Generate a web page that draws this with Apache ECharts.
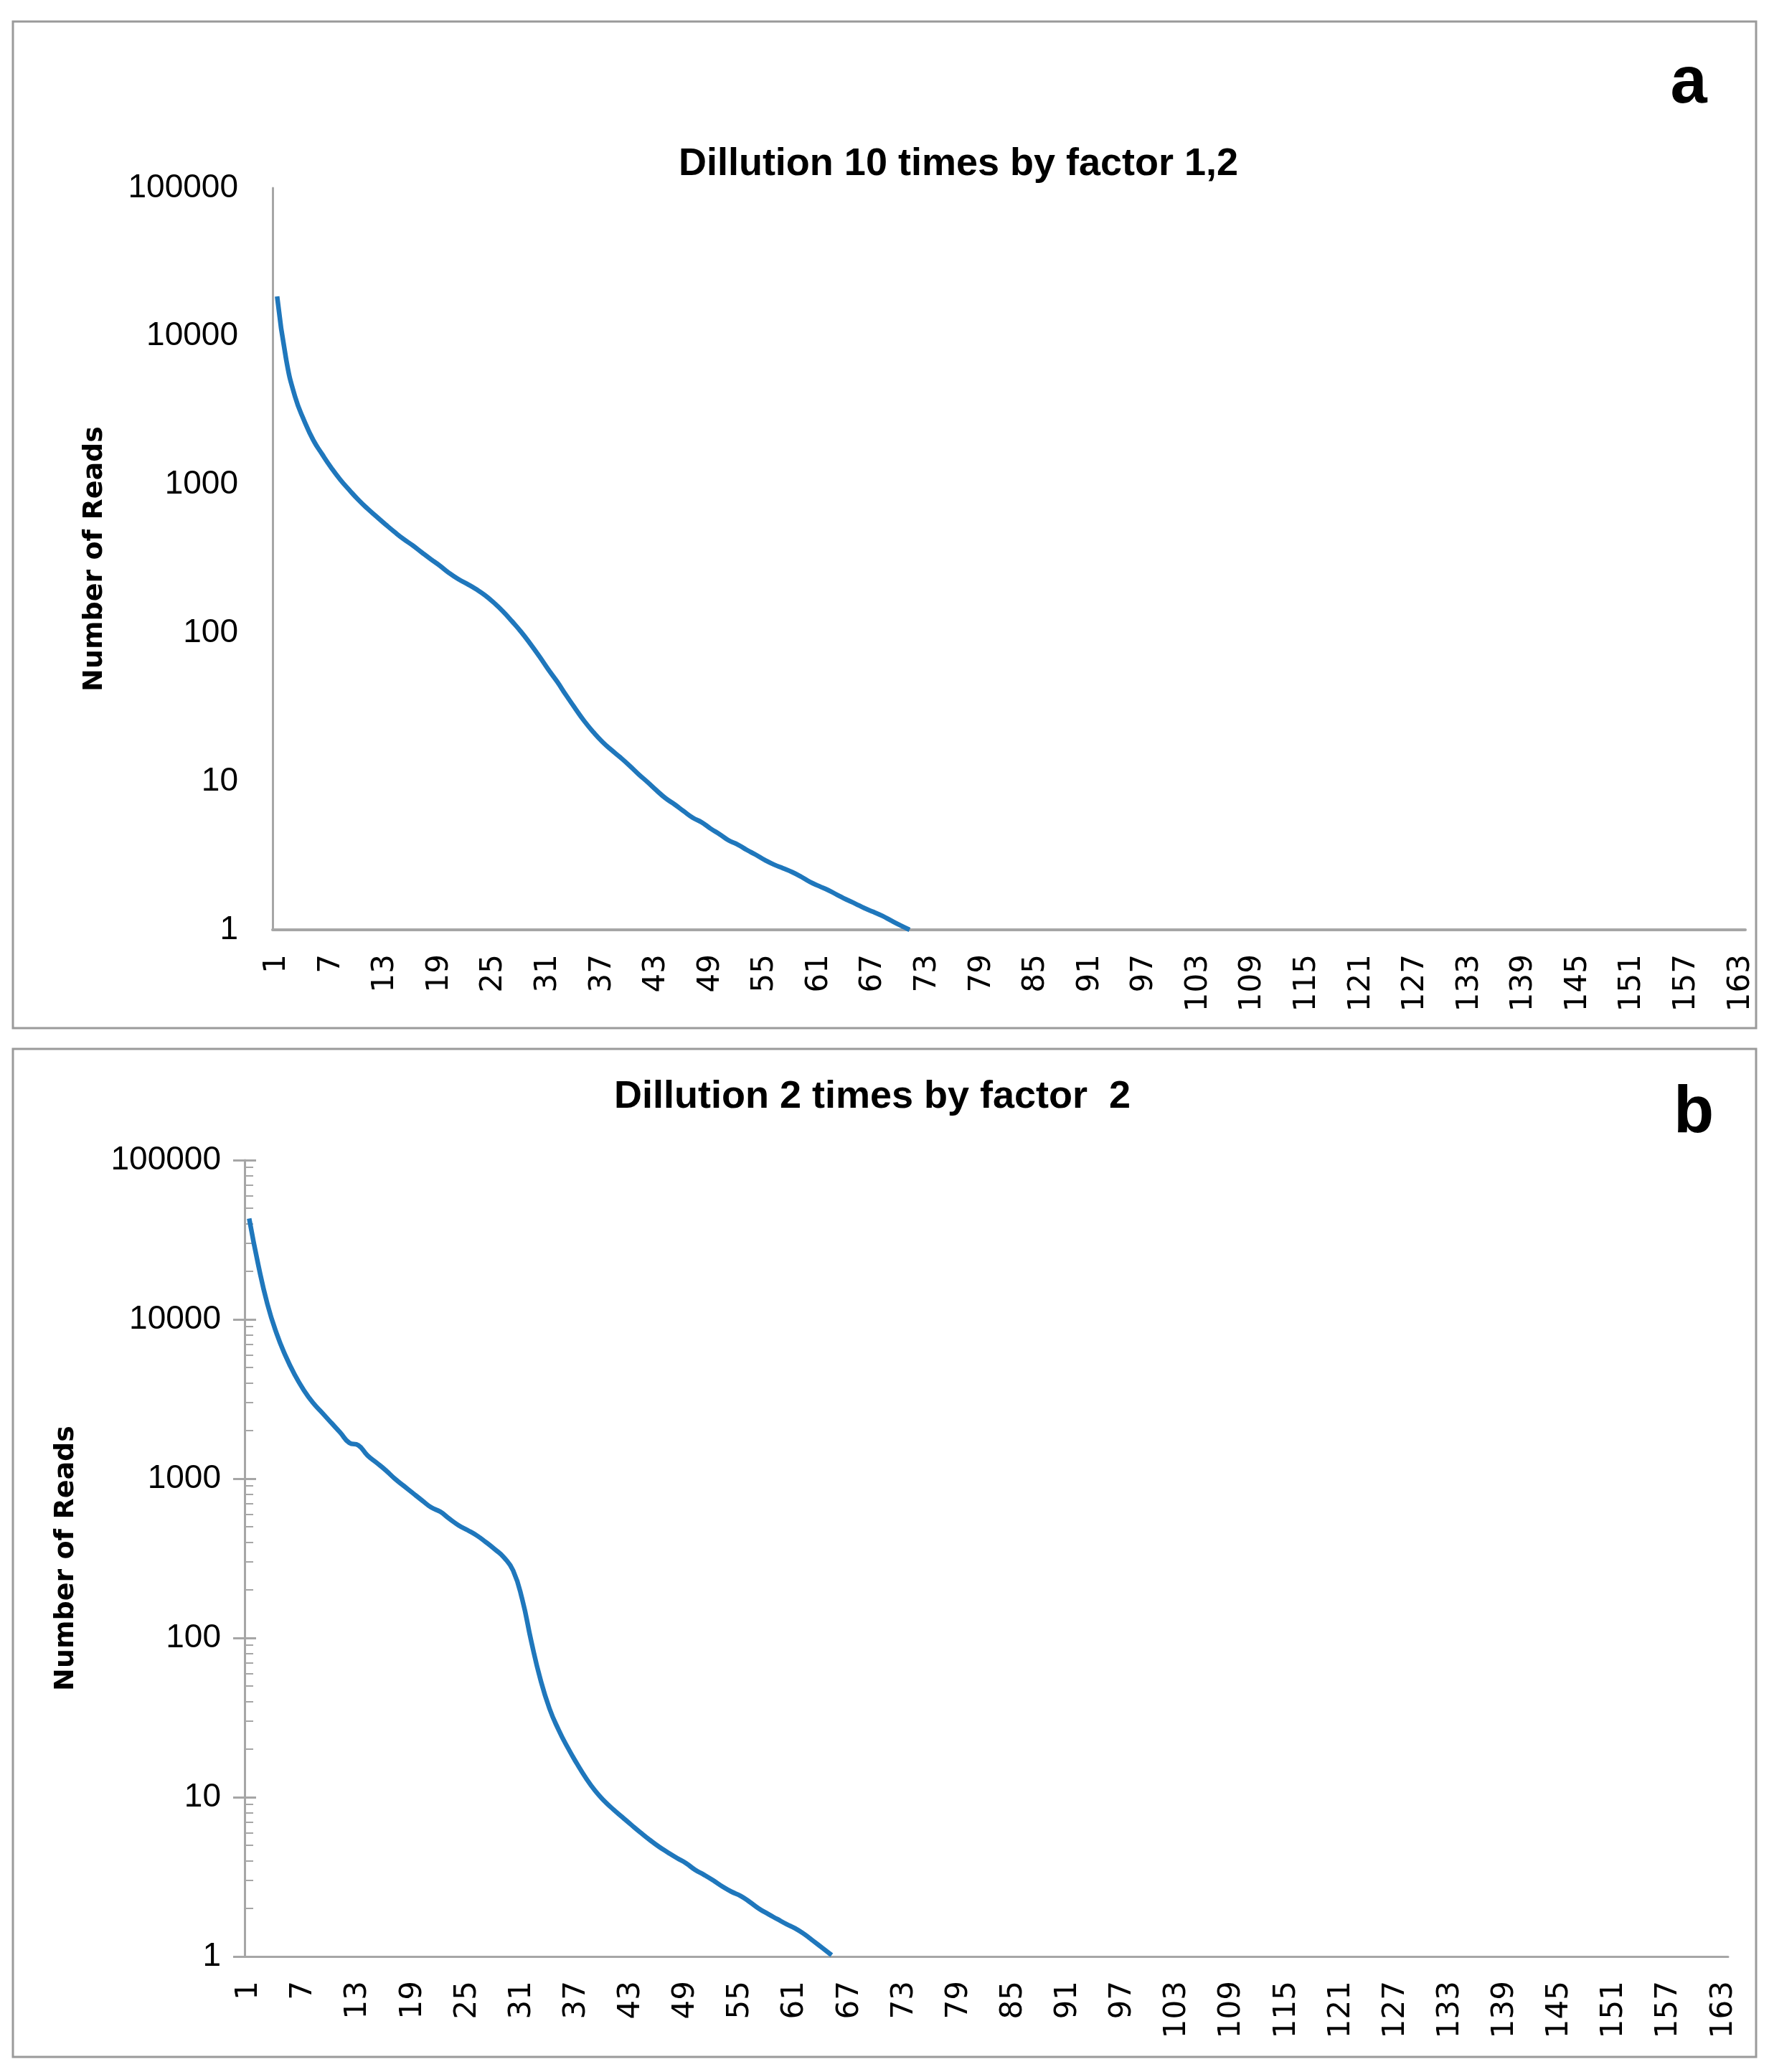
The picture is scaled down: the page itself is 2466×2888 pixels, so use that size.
<!DOCTYPE html>
<html>
<head>
<meta charset="utf-8">
<script src="https://cdn.jsdelivr.net/npm/echarts@6/dist/echarts.min.js"></script>
<style>
html,body{margin:0;padding:0;background:#fff;}
#chart{width:2466px;height:2888px;}
</style>
</head>
<body>
<div id="chart"></div>
<script>
// ---- data ----
const categories = Array.from({length: 163}, (_, i) => String(i + 1));
const yTickLabels = [1, 10, 100, 1000, 10000, 100000];
const minorTickValues = [2,3,4,5,6,7,8,9, 20,30,40,50,60,70,80,90, 200,300,400,500,600,700,800,900,
  2000,3000,4000,5000,6000,7000,8000,9000, 20000,30000,40000,50000,60000,70000,80000,90000];

const titleA = 'Dillution 10 times by factor 1,2';
const titleB = 'Dillution 2 times by factor  2';
const yName = 'Number of Reads';

const readsA = [18600, 7000, 3900, 2700, 2000, 1600, 1300, 1080, 920, 790,
  690, 610, 540, 480, 430, 390, 350, 315, 285, 255,
  232, 215, 198, 180, 160, 140, 120, 102, 85, 70,
  57, 47, 38, 31, 25.5, 21.5, 18.5, 16.3, 14.5, 12.8,
  11.2, 9.9, 8.7, 7.7, 7.0, 6.3, 5.7, 5.3, 4.8, 4.4,
  4.0, 3.75, 3.45, 3.2, 2.95, 2.75, 2.6, 2.45, 2.28, 2.1,
  1.97, 1.85, 1.72, 1.6, 1.5, 1.4, 1.32, 1.24, 1.15, 1.07,
  1.0];

const readsB = [43000, 22000, 12500, 8200, 5900, 4500, 3600, 3000, 2600, 2250,
  1950, 1680, 1620, 1400, 1260, 1130, 1000, 900, 810, 730,
  660, 620, 560, 510, 475, 440, 400, 360, 320, 265,
  175, 95, 55, 36, 26.5, 20.5, 16.3, 13.2, 11, 9.5,
  8.4, 7.5, 6.7, 6.0, 5.4, 4.9, 4.5, 4.15, 3.85, 3.5,
  3.25, 3.0, 2.75, 2.55, 2.4, 2.2, 2.0, 1.85, 1.72, 1.6,
  1.5, 1.38, 1.25, 1.13, 1.02];

// ---- chart ----
const axisGray = '#a6a6a6';
const lineBlue = '#1f77bc';
const xLabel = {interval: 5, rotate: 90, margin: 34, color: '#000', fontFamily: 'DejaVu Sans', fontSize: 42};
const yLabel = {color: '#000', fontFamily: 'Liberation Sans', fontSize: 46, margin: 48,
  customValues: yTickLabels, formatter: v => String(v)};
const yNameStyle = {color: '#000', fontFamily: 'DejaVu Sans', fontWeight: 'bold', fontSize: 38};

const chart = echarts.init(document.getElementById('chart'));
chart.setOption({
  animation: false,
  backgroundColor: '#fff',
  grid: [
    {left: 380, top: 262, width: 2053, height: 1034},
    {left: 341, top: 1617, width: 2068, height: 1110}
  ],
  xAxis: [
    {type: 'category', gridIndex: 0, data: categories, boundaryGap: true,
     axisLine: {lineStyle: {color: axisGray, width: 4}}, axisTick: {show: false}, axisLabel: xLabel},
    {type: 'category', gridIndex: 1, data: categories, boundaryGap: true,
     axisLine: {lineStyle: {color: axisGray, width: 3}}, axisTick: {show: false}, axisLabel: xLabel}
  ],
  yAxis: [
    {type: 'log', gridIndex: 0, logBase: 10, min: 1, max: 100000,
     name: yName, nameLocation: 'middle', nameGap: 229, nameTextStyle: yNameStyle,
     axisLine: {show: true, lineStyle: {color: axisGray, width: 3}}, axisTick: {show: false},
     splitLine: {show: false}, axisLabel: yLabel},
    {type: 'log', gridIndex: 1, logBase: 10, min: 1, max: 100000,
     name: yName, nameLocation: 'middle', nameGap: 230, nameTextStyle: yNameStyle,
     axisLine: {show: true, lineStyle: {color: axisGray, width: 3}},
     axisTick: {show: true, inside: false, length: 16, lineStyle: {color: axisGray, width: 3}, customValues: yTickLabels},
     splitLine: {show: false}, axisLabel: Object.assign({}, yLabel, {margin: 33})},
    {type: 'log', gridIndex: 1, logBase: 10, min: 1, max: 100000, position: 'left',
     axisLine: {show: false},
     axisTick: {show: true, inside: true, length: 16, lineStyle: {color: axisGray, width: 3}, customValues: yTickLabels},
     axisLabel: {show: false}, splitLine: {show: false}},
    {type: 'log', gridIndex: 1, logBase: 10, min: 1, max: 100000, position: 'left',
     axisLine: {show: false},
     axisTick: {show: true, inside: true, length: 12, lineStyle: {color: axisGray, width: 2}, customValues: minorTickValues},
     axisLabel: {show: false}, splitLine: {show: false}}
  ],
  series: [
    {type: 'line', xAxisIndex: 0, yAxisIndex: 0, data: readsA, smooth: true, showSymbol: false,
     lineStyle: {color: lineBlue, width: 6.5}, z: 5},
    {type: 'line', xAxisIndex: 1, yAxisIndex: 1, data: readsB, smooth: true, showSymbol: false,
     lineStyle: {color: lineBlue, width: 6.5}, z: 5}
  ],
  graphic: [
    {type: 'rect', shape: {x: 18, y: 30, width: 2430, height: 1403},
     style: {fill: 'none', stroke: '#9a9a9a', lineWidth: 3}},
    {type: 'rect', shape: {x: 18, y: 1462, width: 2430, height: 1405},
     style: {fill: 'none', stroke: '#9a9a9a', lineWidth: 3}},
    {type: 'text', x: 1336, y: 229,
     style: {text: titleA, fill: '#000', fontFamily: 'Liberation Sans', fontWeight: 'bold', fontSize: 54,
             align: 'center', verticalAlign: 'middle'}},
    {type: 'text', x: 1216, y: 1529,
     style: {text: titleB, fill: '#000', fontFamily: 'Liberation Sans', fontWeight: 'bold', fontSize: 54,
             align: 'center', verticalAlign: 'middle'}},
    {type: 'text', x: 2354, y: 118,
     style: {text: 'a', fill: '#000', fontFamily: 'Liberation Sans', fontWeight: 'bold', fontSize: 92,
             align: 'center', verticalAlign: 'middle'}},
    {type: 'text', x: 2361, y: 1553,
     style: {text: 'b', fill: '#000', fontFamily: 'Liberation Sans', fontWeight: 'bold', fontSize: 92,
             align: 'center', verticalAlign: 'middle'}}
  ]
});
</script>
</body>
</html>
